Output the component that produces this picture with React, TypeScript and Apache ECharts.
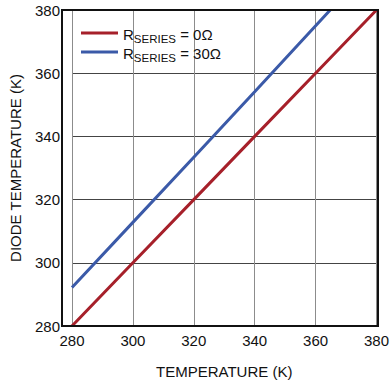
import React, { useEffect, useRef } from "react";
import * as echarts from "echarts";

const xTicks = [280, 300, 320, 340, 360, 380];
const redSeries: [number, number][] = [
  [280, 280],
  [300, 300],
  [320, 320],
  [340, 340],
  [360, 360],
  [380, 380],
];
const blueSeries: [number, number][] = [
  [280, 292.2],
  [300, 312.8],
  [320, 333.4],
  [340, 354.1],
  [364.8, 380],
];
const seriesNames = ["R0", "R30"];
const legendValues = ["0Ω", "30Ω"];

const FONT = "'Liberation Sans Narrow', 'Liberation Sans', Arial, sans-serif";

export default function App() {
  const ref = useRef<HTMLDivElement>(null);
  useEffect(() => {
    if (!ref.current) return;
    document.body.style.margin = "0";
    const chart = echarts.init(ref.current, undefined, { renderer: "svg" });
    chart.setOption({
      animation: false,
      backgroundColor: "#ffffff",
      grid: { left: 62, right: 14, top: 10, bottom: 58, containLabel: false },
      legend: {
        orient: "vertical",
        left: 76,
        top: 22,
        itemWidth: 37,
        itemHeight: 3,
        itemGap: 1,
        icon: "rect",
        data: seriesNames,
        formatter: (name: string) => {
          const v = legendValues[seriesNames.indexOf(name)];
          return `{r|R}{s|SERIES}{r| = ${v}}`;
        },
        textStyle: {
          fontFamily: FONT,
          color: "#111",
          rich: {
            r: { fontSize: 15, fontFamily: FONT, color: "#111", lineHeight: 18, verticalAlign: "bottom" },
            s: { fontSize: 11.5, fontFamily: FONT, color: "#111", lineHeight: 18, verticalAlign: "bottom", padding: [0, 0, -3, 0] },
          },
        },
      },
      xAxis: {
        type: "value",
        min: 280,
        max: 380,
        interval: 20,
        name: "TEMPERATURE (K)",
        nameLocation: "middle",
        nameGap: 38,
        nameTextStyle: { fontFamily: FONT, fontSize: 15, color: "#111" },
        axisLine: { show: false },
        axisTick: { show: false },
        axisLabel: { fontFamily: FONT, fontSize: 15, color: "#111", margin: 7 },
        splitLine: { show: true, lineStyle: { color: "#8c8c8c", width: 1 } },
      },
      yAxis: {
        type: "value",
        min: 280,
        max: 380,
        interval: 20,
        name: "DIODE TEMPERATURE (K)",
        nameLocation: "middle",
        nameGap: 49,
        nameTextStyle: { fontFamily: FONT, fontSize: 15, color: "#111" },
        axisLine: { show: false },
        axisTick: { show: false },
        axisLabel: { fontFamily: FONT, fontSize: 15, color: "#111", margin: 12 },
        splitLine: { show: true, lineStyle: { color: "#444444", width: 1 } },
      },
      series: [
        {
          name: seriesNames[0],
          type: "line",
          data: redSeries,
          showSymbol: false,
          lineStyle: { color: "#a6202a", width: 3 },
          itemStyle: { color: "#a6202a" },
          z: 3,
        },
        {
          name: seriesNames[1],
          type: "line",
          data: blueSeries,
          showSymbol: false,
          lineStyle: { color: "#3b5aa8", width: 3 },
          itemStyle: { color: "#3b5aa8" },
          z: 3,
        },
      ],
      graphic: [
        {
          type: "rect",
          shape: { x: 62, y: 10, width: 316, height: 316 },
          style: { fill: "none", stroke: "#111", lineWidth: 2 },
          z: 10,
        },
      ],
    });
    return () => chart.dispose();
  }, []);
  return <div ref={ref} style={{ width: 392, height: 384 }} />;
}
